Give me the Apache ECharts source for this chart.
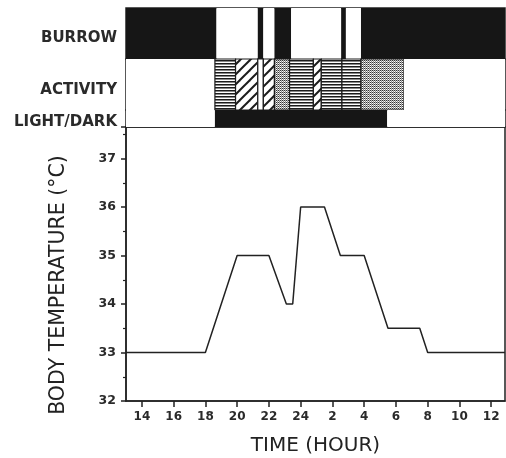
<!DOCTYPE html>
<html>
<head>
<meta charset="utf-8">
<script src="https://cdn.jsdelivr.net/npm/echarts@6/dist/echarts.min.js"></script>
<style>html,body{margin:0;padding:0;background:#fff;}#c{width:506px;height:458px;}</style>
</head>
<body>
<div id="c"></div>
<script>
// ---- data ----
const X_MIN = 13;            // 13:00
const X_MAX = 36.87;         // ~12:52 next day
const timeHours = [13, 18, 20, 22, 23.1, 23.5, 24, 25.5, 26.5, 28, 29.5, 31.5, 32, 36.87];
const bodyTemp  = [33, 33, 35, 35, 34,   34,   36, 36,   35,   35, 33.5, 33.5, 33, 33];

const xTickValues = [14, 16, 18, 20, 22, 24, 26, 28, 30, 32, 34, 36];
const xMinorTickValues = [13, 15, 17, 19, 21, 23, 25, 27, 29, 31, 33, 35];

const burrowEdges  = [13, 18.7, 21.3, 21.65, 22.35, 23.4, 26.55, 26.85, 27.8, 36.87];
const burrowStates = ['in', 'out', 'in', 'out', 'in', 'out', 'in', 'out', 'in'];

const activityEdges  = [13, 18.6, 19.9, 21.3, 21.65, 22.35, 23.3, 24.8, 25.3, 26.6, 27.8, 30.5, 36.87];
const activityStates = ['none', 'hlines', 'diag', 'gap', 'diag', 'stipple', 'hlines', 'diag', 'hlines', 'hlines', 'stipple', 'none'];

const lightEdges  = [13, 18.6, 29.45, 36.87];
const lightStates = ['light', 'dark', 'light'];

const rowLabels = ['BURROW', 'ACTIVITY', 'LIGHT/DARK'];

// ---- patterns ----
function makeCanvas(w, h, draw) {
  const c = document.createElement('canvas');
  c.width = w; c.height = h;
  const g = c.getContext('2d');
  g.fillStyle = '#fff'; g.fillRect(0, 0, w, h);
  draw(g, w, h);
  return c;
}
const hlinesCanvas = makeCanvas(4, 3, (g, w) => { g.fillStyle = '#1c1c1c'; g.fillRect(0, 0, w, 1); g.fillStyle = '#888'; g.fillRect(0, 1, w, 1); });
const diagCanvas = makeCanvas(10, 10, (g) => {
  g.strokeStyle = '#1c1c1c'; g.lineWidth = 2;
  [0, 10, 20].forEach(k => { g.beginPath(); g.moveTo(k - 11, 11); g.lineTo(k + 1, -1); g.stroke(); });
});
const stippleCanvas = makeCanvas(2, 2, (g) => { g.fillStyle = '#333'; g.fillRect(0, 0, 1, 1); g.fillStyle = '#888'; g.fillRect(1, 1, 1, 1); g.fillStyle = '#bbb'; g.fillRect(1, 0, 1, 1); });

const fills = {
  in: '#161616', out: '#ffffff',
  none: '#ffffff', gap: '#ffffff', light: '#ffffff', dark: '#161616',
  hlines: { image: hlinesCanvas, repeat: 'repeat' },
  diag: { image: diagCanvas, repeat: 'repeat' },
  stipple: { image: stippleCanvas, repeat: 'repeat' }
};
const stroked = { hlines: 1, diag: 1, stipple: 1, gap: 1 };

function bandSeries(idx, edges, states) {
  const data = [];
  for (let i = 0; i < states.length; i++) data.push([edges[i], edges[i + 1], 0]);
  return {
    type: 'custom', xAxisIndex: idx, yAxisIndex: idx,
    encode: { x: [0, 1], y: 2 },
    data: data,
    renderItem: function (params, api) {
      const cs = params.coordSys;
      const s = api.coord([api.value(0), 0])[0];
      const e = api.coord([api.value(1), 0])[0];
      const x0 = Math.max(s, cs.x), x1 = Math.min(e, cs.x + cs.width);
      const kind = states[params.dataIndex];
      return {
        type: 'rect',
        shape: { x: x0, y: cs.y, width: x1 - x0, height: cs.height },
        style: { fill: fills[kind], stroke: stroked[kind] ? '#1c1c1c' : null, lineWidth: stroked[kind] ? 1.2 : 0 }
      };
    },
    silent: true, animation: false
  };
}

const GRID_LEFT = 126, GRID_RIGHT = 1;
const gridBase = { left: GRID_LEFT, right: GRID_RIGHT, show: true, borderColor: '#222', borderWidth: 1.5, backgroundColor: 'transparent', containLabel: false, outerBoundsMode: 'none' };
function hiddenX(i) { return { type: 'value', gridIndex: i, min: X_MIN, max: X_MAX, show: false }; }
function rowY(i, pad) {
  return { type: 'category', gridIndex: i, data: [rowLabels[i]], axisLine: { show: false }, axisTick: { show: false },
    axisLabel: {
      margin: 9,
      formatter: v => '{a|' + v + '}',
      rich: { a: { fontFamily: 'DejaVu Sans', fontWeight: 'bold', fontSize: 15, color: '#2a2a2a', padding: [pad, 0, 0, 0] } }
    } };
}

const chart = echarts.init(document.getElementById('c'), null, { renderer: 'canvas' });
chart.setOption({
  animation: false,
  backgroundColor: '#fff',
  grid: [
    Object.assign({ top: 8, height: 51 }, gridBase),
    Object.assign({ top: 59, height: 51 }, gridBase),
    Object.assign({ top: 110, height: 17 }, gridBase),
    Object.assign({ top: 127, height: 274 }, gridBase)
  ],
  xAxis: [
    hiddenX(0), hiddenX(1), hiddenX(2),
    {
      type: 'value', gridIndex: 3, min: X_MIN, max: X_MAX, interval: 1,
      name: 'TIME (HOUR)', nameLocation: 'middle', nameGap: 35,
      nameTextStyle: { fontFamily: 'DejaVu Sans', fontSize: 20, color: '#222' },
      axisLine: { show: true, lineStyle: { color: '#222', width: 1.5 } },
      axisTick: { show: true, customValues: xTickValues, length: 6, lineStyle: { color: '#222', width: 1.5 } },
      axisLabel: { show: true, customValues: xTickValues, margin: 10, fontFamily: 'DejaVu Sans', fontWeight: 'bold', fontSize: 12, color: '#2a2a2a',
        formatter: v => String(v > 24 ? v - 24 : v) },
      splitLine: { show: false }
    },
    {
      type: 'value', gridIndex: 3, min: X_MIN, max: X_MAX, interval: 1,
      axisLine: { show: false },
      axisTick: { show: true, customValues: xMinorTickValues, length: 3, lineStyle: { color: '#222', width: 1.2 } },
      axisLabel: { show: false }, splitLine: { show: false }
    }
  ],
  yAxis: [
    rowY(0, 10), rowY(1, 12), rowY(2, 8),
    {
      type: 'value', gridIndex: 3, min: 32, max: 37.65, interval: 1,
      name: 'BODY TEMPERATURE (°C)', nameLocation: 'middle', nameGap: 57, nameRotate: 90,
      nameTextStyle: { fontFamily: 'DejaVu Sans', fontSize: 20.5, color: '#222', padding: [0, 42, 0, 0] },
      axisLine: { show: true, lineStyle: { color: '#222', width: 1.5 } },
      axisTick: { show: true, length: 5, lineStyle: { color: '#222', width: 1.5 } },
      minorTick: { show: true, splitNumber: 2, length: 3, lineStyle: { color: '#222', width: 1.2 } },
      axisLabel: { margin: 10, fontFamily: 'DejaVu Sans', fontWeight: 'bold', fontSize: 12.5, color: '#2a2a2a',
        formatter: v => (Math.abs(v - Math.round(v)) < 1e-6 ? String(Math.round(v)) : '') },
      splitLine: { show: false }
    }
  ],
  series: [
    bandSeries(0, burrowEdges, burrowStates),
    bandSeries(1, activityEdges, activityStates),
    bandSeries(2, lightEdges, lightStates),
    {
      type: 'line', xAxisIndex: 3, yAxisIndex: 3,
      data: timeHours.map((t, i) => [t, bodyTemp[i]]),
      symbol: 'none', lineStyle: { color: '#222', width: 1.5 }, silent: true
    }
  ]
});
</script>
</body>
</html>
